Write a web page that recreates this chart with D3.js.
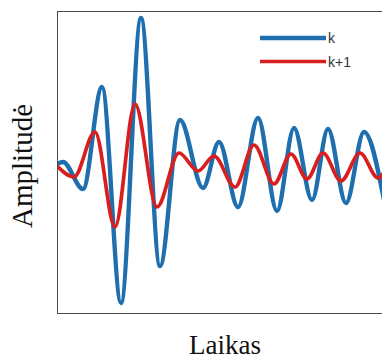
<!DOCTYPE html>
<html>
<head>
<meta charset="utf-8">
<script src="https://cdn.jsdelivr.net/npm/d3@7"></script>
<style>
  html, body { margin: 0; padding: 0; background: #fff; }
  svg { display: block; }
</style>
</head>
<body>
<svg id="chart"></svg>
<script>
// time (arbitrary units) and amplitude, extrema only
const seriesNames = ['k', 'k+1'];
const timeK = [0, 6, 26, 45, 64, 84, 103, 123, 146, 162, 181, 201, 220, 237, 255, 271, 289, 307, 327];
const ampK = [0.01, 0.03, -0.24, 0.78, -1.38, 1.47, -1.01, 0.45, -0.23, 0.23, -0.42, 0.47, -0.46, 0.37, -0.35, 0.36, -0.38, 0.33, -0.35];
const timeK1 = [0, 17, 38, 58, 78, 100, 122, 141, 157, 178, 197, 217, 234, 250, 266, 284, 303, 321, 331];
const ampK1 = [-0.01, -0.12, 0.33, -0.62, 0.61, -0.42, 0.12, -0.06, 0.09, -0.22, 0.20, -0.19, 0.11, -0.14, 0.12, -0.16, 0.12, -0.13, 0.00];
const timeDomain = [0, 328];
const ampDomain = [-1.48, 1.54];

class WaveChart {

  constructor(_config, _series) {
    this.config = {
      parentElement: _config.parentElement,
      containerWidth: 382,
      containerHeight: 361,
      margin: { top: 11, right: -3, bottom: 48, left: 57 }
    };
    this.series = _series;
    this.colors = { 'k': '#1f6fae', 'k+1': '#d81e1e' };
    this.widths = { 'k': 4.4, 'k+1': 3.7 };
    this.initVis();
  }

  initVis() {
    let vis = this;

    vis.config.width = vis.config.containerWidth - vis.config.margin.left - vis.config.margin.right;
    vis.config.height = vis.config.containerHeight - vis.config.margin.top - vis.config.margin.bottom;

    vis.svg = d3.select(vis.config.parentElement)
        .attr('width', vis.config.containerWidth)
        .attr('height', vis.config.containerHeight);

    vis.chart = vis.svg.append('g')
        .attr('transform', `translate(${vis.config.margin.left},${vis.config.margin.top})`);

    vis.xScale = d3.scaleLinear().domain(timeDomain).range([0, vis.config.width]);
    vis.yScale = d3.scaleLinear().domain(ampDomain).range([vis.config.height, 0]);

    vis.svg.append('defs').append('clipPath')
        .attr('id', 'plot-clip')
      .append('rect')
        .attr('width', vis.config.width)
        .attr('height', vis.config.height);

    vis.line = d3.line()
        .x(d => vis.xScale(d.t))
        .y(d => vis.yScale(d.a))
        .curve(d3.curveMonotoneX);

    vis.renderVis();
  }

  renderVis() {
    let vis = this;

    vis.chart.append('g')
        .attr('clip-path', 'url(#plot-clip)')
      .selectAll('.wave')
        .data(vis.series)
      .join('path')
        .attr('class', 'wave')
        .attr('fill', 'none')
        .attr('stroke', d => vis.colors[d.name])
        .attr('stroke-width', d => vis.widths[d.name])
        .attr('stroke-linejoin', 'round')
        .attr('d', d => vis.line(d.values));

    // frame
    vis.chart.append('rect')
        .attr('x', 0.5)
        .attr('y', 0.5)
        .attr('width', vis.config.width)
        .attr('height', vis.config.height)
        .attr('fill', 'none')
        .attr('stroke', '#4a4a4a')
        .attr('stroke-width', 1);

    // legend
    const legend = vis.svg.append('g')
        .attr('transform', 'translate(260,38)');
    const items = legend.selectAll('.legend-item')
        .data(vis.series)
      .join('g')
        .attr('class', 'legend-item')
        .attr('transform', (d, i) => `translate(0,${i * 23.5})`);
    items.append('line')
        .attr('x1', 0).attr('x2', 66)
        .attr('stroke', d => vis.colors[d.name])
        .attr('stroke-width', d => vis.widths[d.name]);
    items.append('text')
        .attr('x', 68)
        .attr('y', 5)
        .style('font-family', '"Liberation Sans", Arial, sans-serif')
        .style('font-size', '14px')
        .attr('fill', '#333')
        .text(d => d.name);

    // axis titles
    vis.svg.append('text')
        .attr('x', 225)
        .attr('y', 354)
        .attr('text-anchor', 'middle')
        .style('font-family', '"Liberation Serif", "Times New Roman", serif')
        .style('font-size', '27px')
        .attr('fill', '#111')
        .text('Laikas');

    vis.svg.append('text')
        .attr('transform', 'translate(32,166) rotate(-90)')
        .attr('text-anchor', 'middle')
        .style('font-family', '"Liberation Serif", "Times New Roman", serif')
        .style('font-size', '29px')
        .attr('fill', '#111')
        .text('Amplitudė');
  }
}

const series = [
  { name: seriesNames[0], values: timeK.map((t, i) => ({ t: t, a: ampK[i] })) },
  { name: seriesNames[1], values: timeK1.map((t, i) => ({ t: t, a: ampK1[i] })) }
];

new WaveChart({ parentElement: '#chart' }, series);
</script>
</body>
</html>
